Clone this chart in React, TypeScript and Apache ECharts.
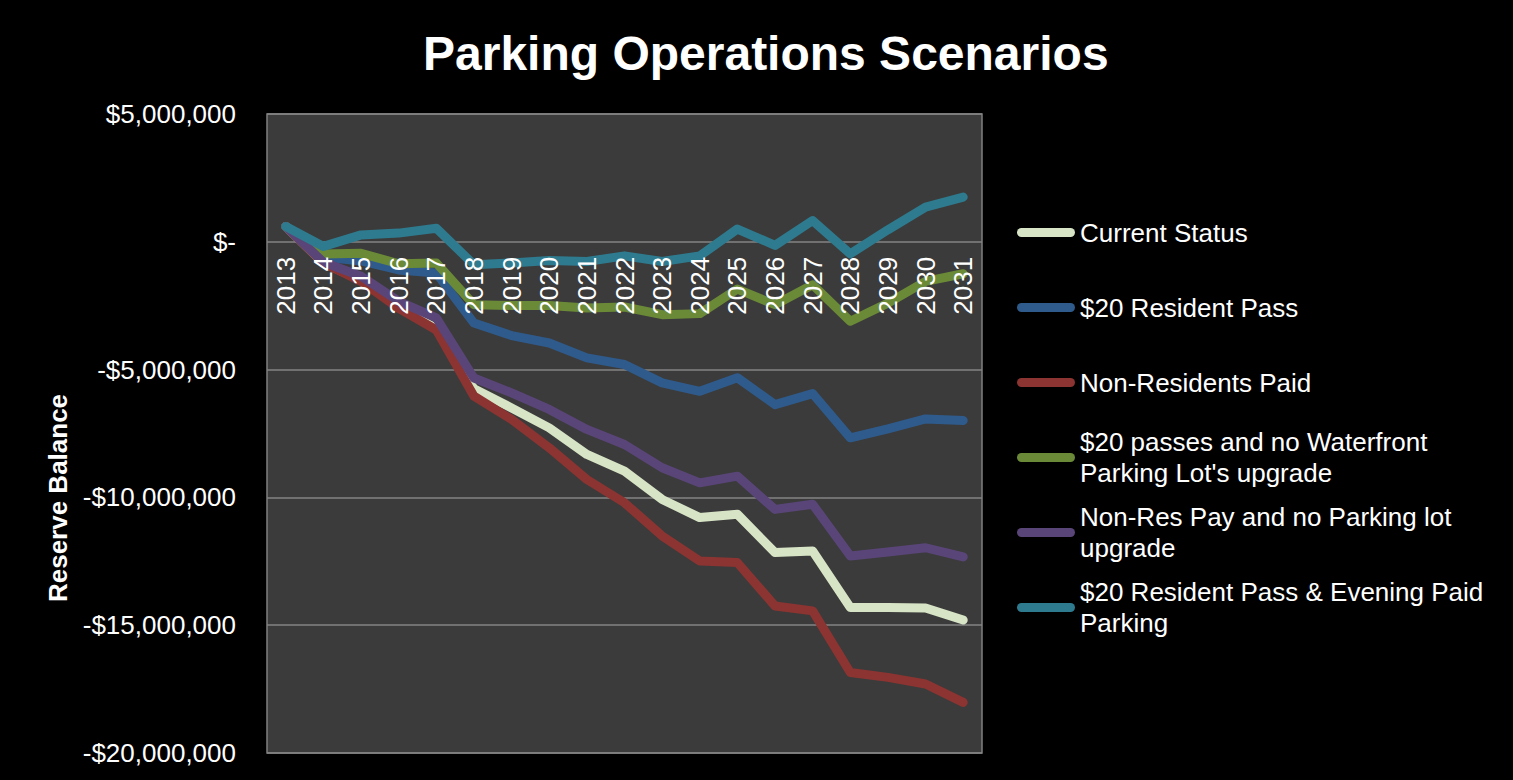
import React, { useEffect, useRef } from "react";
import * as echarts from "echarts";

const years = ["2013", "2014", "2015", "2016", "2017", "2018", "2019", "2020", "2021", "2022", "2023", "2024", "2025", "2026", "2027", "2028", "2029", "2030", "2031"];

const currentStatus = [600000, -830000, -1500000, -2550000, -3400000, -5750000, -6500000, -7280000, -8320000, -8970000, -10080000, -10790000, -10660000, -12160000, -12100000, -14310000, -14310000, -14330000, -14800000];
const residentPass20 = [600000, -600000, -750000, -1100000, -1220000, -3180000, -3670000, -3960000, -4540000, -4800000, -5520000, -5850000, -5320000, -6370000, -5940000, -7670000, -7320000, -6930000, -6990000];
const nonResidentsPaid = [600000, -830000, -1550000, -2600000, -3450000, -6040000, -6950000, -8060000, -9300000, -10210000, -11510000, -12490000, -12550000, -14250000, -14440000, -16850000, -17040000, -17300000, -18020000];
const passesNoWaterfront = [600000, -480000, -450000, -860000, -830000, -2460000, -2490000, -2490000, -2590000, -2550000, -2850000, -2810000, -1850000, -2460000, -1680000, -3110000, -2400000, -1550000, -1250000];
const nonResPayNoLot = [600000, -800000, -1350000, -2330000, -2980000, -5330000, -5910000, -6560000, -7340000, -7930000, -8840000, -9430000, -9170000, -10470000, -10270000, -12290000, -12140000, -11970000, -12330000];
const residentPassEvening = [600000, -180000, 270000, 340000, 530000, -900000, -830000, -730000, -770000, -550000, -770000, -550000, 500000, -140000, 830000, -470000, 470000, 1360000, 1750000];

const seriesNames = [
  "Current Status",
  "$20 Resident Pass",
  "Non-Residents Paid",
  "$20 passes and no Waterfront Parking Lot's upgrade",
  "Non-Res Pay and no Parking lot upgrade",
  "$20 Resident Pass & Evening Paid Parking",
];
const legendLabels = [
  "Current Status",
  "$20 Resident Pass",
  "Non-Residents Paid",
  "$20 passes and no Waterfront\nParking Lot's upgrade",
  "Non-Res Pay and no Parking lot\nupgrade",
  "$20 Resident Pass & Evening Paid\nParking",
];
const seriesData = [currentStatus, residentPass20, nonResidentsPaid, passesNoWaterfront, nonResPayNoLot, residentPassEvening];
const colors = ["#D7E4C5", "#2F5B8C", "#8B3431", "#6B8A38", "#5A4579", "#2E7B8F"];

const yMin = -20000000;
const yMax = 5000000;
const yInterval = 5000000;

const FONT = "'Liberation Sans', Arial, Helvetica, sans-serif";

const GRID_TOP = 114;
const GRID_BOTTOM = 27;
const CHART_H = 780;

function fmtMoney(v: number): string {
  if (v === 0) return "$-";
  const s = "$" + Math.abs(v).toLocaleString("en-US");
  return v < 0 ? "-" + s : s;
}

export default function App() {
  const ref = useRef<HTMLDivElement>(null);
  useEffect(() => {
    if (!ref.current) return;
    const chart = echarts.init(ref.current, null, { renderer: "svg" });
    const capsule = "path://M4.5,0 L53.5,0 A4.5,4.5 0 0 1 53.5,9 L4.5,9 A4.5,4.5 0 0 1 4.5,0 Z";
    // place the category axis on the zero line of the value axis
    const plotH = CHART_H - GRID_TOP - GRID_BOTTOM;
    const zeroFromBottom = ((0 - yMin) / (yMax - yMin)) * plotH;
    chart.setOption({
      animation: false,
      backgroundColor: "#000000",
      textStyle: { fontFamily: FONT },
      title: {
        text: "Parking Operations Scenarios",
        left: 423,
        top: 29,
        padding: 0,
        textStyle: { color: "#ffffff", fontSize: 48, fontWeight: "bold", fontFamily: FONT },
      },
      grid: {
        left: 267,
        right: 531,
        top: GRID_TOP,
        bottom: GRID_BOTTOM,
        show: true,
        z: 0,
        backgroundColor: "#3B3B3B",
        borderColor: "#808080",
        borderWidth: 1.5,
        containLabel: false,
        outerBoundsMode: "none",
      },
      legend: {
        orient: "vertical",
        left: 1017,
        top: 186,
        padding: 0,
        itemWidth: 58,
        itemHeight: 9,
        itemGap: -18,
        icon: capsule,
        data: seriesNames.map((n, i) => ({
          name: n,
          textStyle: {
            padding: legendLabels[i].indexOf("\n") >= 0 ? [31, 0, 0, 0] : [31, 0, 31, 0],
          },
        })),
        formatter: (name: string) => legendLabels[seriesNames.indexOf(name)],
        textStyle: {
          color: "#ffffff",
          fontSize: 26,
          lineHeight: 31,
          fontFamily: FONT,
          backgroundColor: "rgba(0,0,0,0)",
        },
      },
      graphic: [
        {
          type: "text",
          x: 58,
          y: 498,
          rotation: Math.PI / 2,
          style: {
            text: "Reserve Balance",
            fill: "#ffffff",
            font: "bold 26px " + FONT,
            textAlign: "center",
            textVerticalAlign: "middle",
          },
        },
      ],
      xAxis: {
        type: "category",
        data: years,
        boundaryGap: true,
        z: 10,
        zlevel: 0,
        position: "bottom",
        offset: -zeroFromBottom,
        axisLine: { show: false, onZero: false },
        axisTick: { show: false },
        splitLine: { show: false },
        axisLabel: {
          rotate: 90,
          color: "#ffffff",
          fontSize: 26,
          fontFamily: FONT,
          margin: 15,
          interval: 0,
        },
      },
      yAxis: {
        type: "value",
        min: yMin,
        max: yMax,
        interval: yInterval,
        z: 0,
        axisLine: { show: false },
        axisTick: { show: false },
        splitLine: { show: true, lineStyle: { color: "#858585", width: 1.5 } },
        axisLabel: {
          color: "#ffffff",
          fontSize: 26,
          fontFamily: FONT,
          margin: 31,
          formatter: fmtMoney,
        },
      },
      series: seriesNames.map((n, i) => ({
        name: n,
        type: "line",
        z: 1,
        data: seriesData[i],
        symbol: "none",
        showSymbol: false,
        color: colors[i],
        lineStyle: { color: colors[i], width: 9, cap: "round", join: "round" },
        emphasis: { disabled: true },
      })),
    });
    return () => chart.dispose();
  }, []);
  return <div ref={ref} style={{ position: "fixed", left: 0, top: 0, width: 1513, height: 780 }} />;
}
